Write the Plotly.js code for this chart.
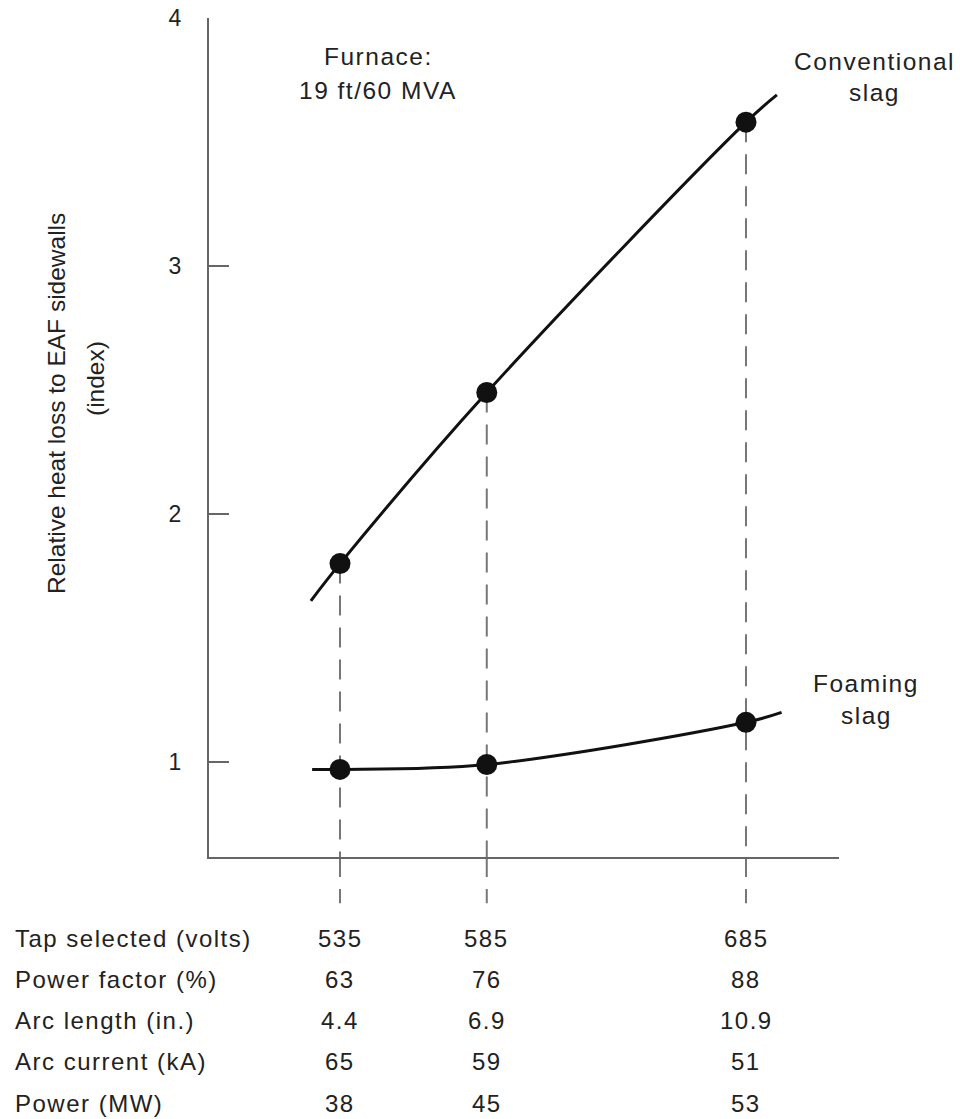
<!DOCTYPE html>
<html>
<head>
<meta charset="utf-8">
<script src="https://cdn.plot.ly/plotly-3.0.1.min.js"></script>
<style>
  html, body { margin: 0; padding: 0; background: #fff; }
  #chart { width: 960px; height: 1119px; }
</style>
</head>
<body>
<div id="chart"></div>
<script>
// Furnace tap settings and operating data
const tapVolts = [535, 585, 685];
const powerFactor = [63, 76, 88];
const arcLength = [4.4, 6.9, 10.9];
const arcCurrent = [65, 59, 51];
const powerMW = [38, 45, 53];
const rowLabels = ["Tap selected (volts)", "Power factor (%)", "Arc length (in.)", "Arc current (kA)", "Power (MW)"];

// Relative sidewall heat loss (index) at each tap
const conventional = [1.80, 2.49, 3.58];
const foaming = [0.97, 0.99, 1.16];

// Trend curves, extended a little beyond the measured taps
const conventionalCurveV = [525.6, 535, 585, 685, 698];
const conventionalCurveY = [1.65, 1.80, 2.49, 3.58, 3.69];
const foamingCurveV = [526, 535, 585, 685, 700];
const foamingCurveY = [0.97, 0.97, 0.99, 1.16, 1.20];

const FONT = '"Liberation Sans", Arial, Helvetica, sans-serif';
const INK = '#222';
const AXIS = '#666';
const spaced = t => '<span style="letter-spacing:1.5px">' + t + '</span>';

const curveLine = { color: '#111', width: 3, shape: 'spline', smoothing: 1 };
const dots = { color: '#111', size: 21 };

const traces = [
  { x: conventionalCurveV, y: conventionalCurveY, mode: 'lines', line: curveLine, hoverinfo: 'skip' },
  { x: foamingCurveV, y: foamingCurveY, mode: 'lines', line: curveLine, hoverinfo: 'skip' },
  { x: tapVolts, y: conventional, mode: 'markers', marker: dots },
  { x: tapVolts, y: foaming, mode: 'markers', marker: dots }
];

// Dashed drop lines from each tap down through the axis
const shapes = [];
tapVolts.forEach((v, i) => {
  const dash = { color: '#777', width: 2, dash: '20px,12px' };
  shapes.push({ type: 'line', layer: 'below', xref: 'x', yref: 'y', x0: v, x1: v, y0: conventional[i], y1: 0, line: dash });
  shapes.push({ type: 'line', layer: 'below', xref: 'x', yref: 'paper', x0: v, x1: v, y0: 0, y1: -0.055, line: dash });
});

const txt = (text, x, y, opts) => Object.assign({
  text: text, x: x, y: y, xref: 'paper', yref: 'paper',
  xanchor: 'center', yanchor: 'middle', showarrow: false,
  font: { family: FONT, size: 24.5, color: INK }
}, opts || {});

const annotations = [
  txt('Relative heat loss to EAF sidewalls', -0.2421, 0.5405, { textangle: -90 }),
  txt('(index)', -0.1802, 0.5703, { textangle: -90 }),
  txt(spaced('Furnace:'), 0.2698, 0.9547),
  txt(spaced('19 ft/60 MVA'), 0.2683, 0.9136),
  txt(spaced('Conventional'), 1.0571, 0.9476),
  txt(spaced('slag'), 1.0571, 0.9112),
  txt(spaced('Foaming'), 1.0429, 0.2062),
  txt(spaced('slag'), 1.0444, 0.1692)
];

// Operating data table under the axis (annotation x on a log axis is log10 of the value)
const rows = [tapVolts, powerFactor, arcLength, arcCurrent, powerMW];
const tableFont = { family: FONT, size: 24, color: INK };
rows.forEach((vals, r) => {
  const py = (857 - (938 + r * 41.3)) / 839;
  annotations.push(txt(spaced(rowLabels[r]), -0.3111, py, { xanchor: 'left', font: tableFont }));
  vals.forEach((val, c) => {
    annotations.push(txt(spaced(String(val)), Math.log10(tapVolts[c]), py, { xref: 'x', font: tableFont }));
  });
});

const layout = {
  width: 960, height: 1119,
  margin: { l: 209, r: 121, t: 18, b: 262 },
  paper_bgcolor: '#fff', plot_bgcolor: '#fff',
  showlegend: false,
  font: { family: FONT, color: INK },
  xaxis: {
    type: 'log', range: [2.693721, 2.860278],
    showline: true, linecolor: AXIS, linewidth: 2,
    showgrid: false, zeroline: false, showticklabels: false, ticks: ''
  },
  yaxis: {
    range: [0.617, 4], tickvals: [1, 2, 3, 4],
    showline: true, linecolor: AXIS, linewidth: 2,
    showgrid: false, zeroline: false,
    ticks: 'inside', ticklen: 20, tickwidth: 2, tickcolor: AXIS,
    ticklabelstandoff: 21,
    tickfont: { family: FONT, size: 23, color: INK }
  },
  shapes: shapes,
  annotations: annotations
};

Plotly.newPlot('chart', traces, layout, { staticPlot: true, displayModeBar: false });
</script>
</body>
</html>
